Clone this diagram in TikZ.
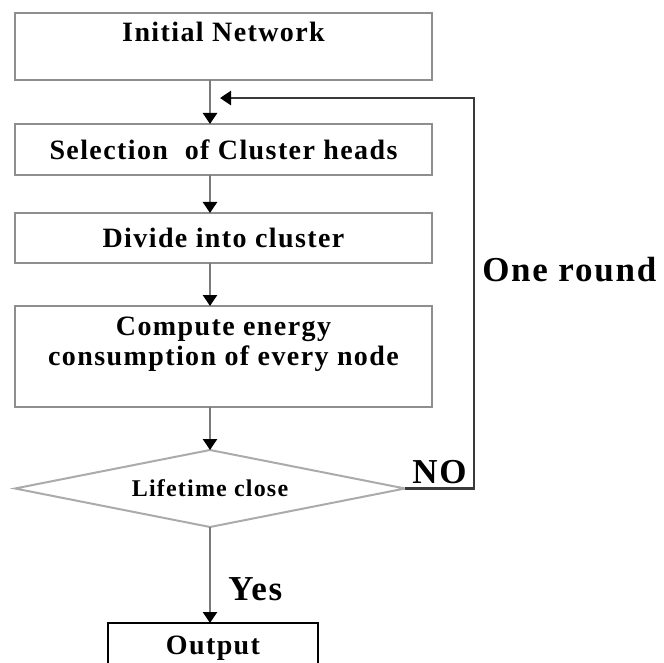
\documentclass[tikz,border=0pt]{standalone}
\usepackage{fontspec}
\setmainfont{Liberation Serif}[LetterSpace=5]
\usetikzlibrary{arrows.meta,positioning,shapes.geometric}
\definecolor{fcedge}{HTML}{8E8E8E}
\definecolor{fcline}{HTML}{7A7A7A}
\definecolor{fcdark}{HTML}{3A3A3A}
\definecolor{fcpale}{HTML}{ABABAB}

\begin{document}
\begin{tikzpicture}[x=1pt,y=-1pt,
  procbox/.style={draw=fcedge,line width=2.5pt,fill=white,minimum width=417pt,outer sep=0pt,
                  align=center,inner sep=0pt,font=\bfseries\fontsize{28}{30}\selectfont},
  decbox/.style={diamond,draw=fcpale,line width=2pt,fill=white,minimum width=390pt,
                 minimum height=77pt,aspect=5,inner sep=0pt,outer sep=0pt,
                 font=\bfseries\fontsize{24}{26}\selectfont},
  arr/.style={-{Triangle[length=11pt,width=14pt,color=black]},line width=2.5pt,color=fcline},
  lbl/.style={text=black,inner sep=3pt,font=\bfseries\fontsize{35}{38}\selectfont},
  node distance=43pt
]
\useasboundingbox (0,0) rectangle (664,663);
\clip (0,0) rectangle (664,663);

\node[procbox,minimum height=67pt] (init) at (223.5,46.5) {Initial Network\\ \mbox{}};
\node[procbox,minimum height=51pt,below=44pt of init] (sel) {Selection\ \ of Cluster heads};
\node[procbox,minimum height=50pt,below=38pt of sel] (div) {Divide into cluster};
\node[procbox,minimum height=101pt,below=43pt of div] (comp)
  {Compute energy\\consumption of every node\\ \mbox{}};
\node[decbox,below=43pt of comp,xshift=-13.5pt] (dec) {Lifetime close};
\node[procbox,draw=black,minimum width=210pt,minimum height=74pt,
      below=96pt of dec,xshift=3pt] (out) {Output\\ \mbox{}};

% main line
\path (init.south -| dec.north) -- coordinate[pos=0.41] (back) (sel.north -| dec.north);
\draw[arr] (init.south -| dec.north) -- (sel.north -| dec.north);
\draw[arr] (sel.south -| dec.north) -- (div.north -| dec.north);
\draw[arr] (div.south -| dec.north) -- (comp.north -| dec.north);
\draw[arr] (comp.south -| dec.north) -- (dec.north);
\draw[arr] (dec.south) -- node[lbl,pos=0.65,right=14pt]{Yes} (out.north -| dec.south);

% loop back
\draw[arr,color=fcdark] (dec.east) -- node[lbl,above]{NO} ++(69,0)
  |- node[lbl,pos=0.28,right=4pt]{One round} ([xshift=10pt]back);
\end{tikzpicture}
\end{document}
